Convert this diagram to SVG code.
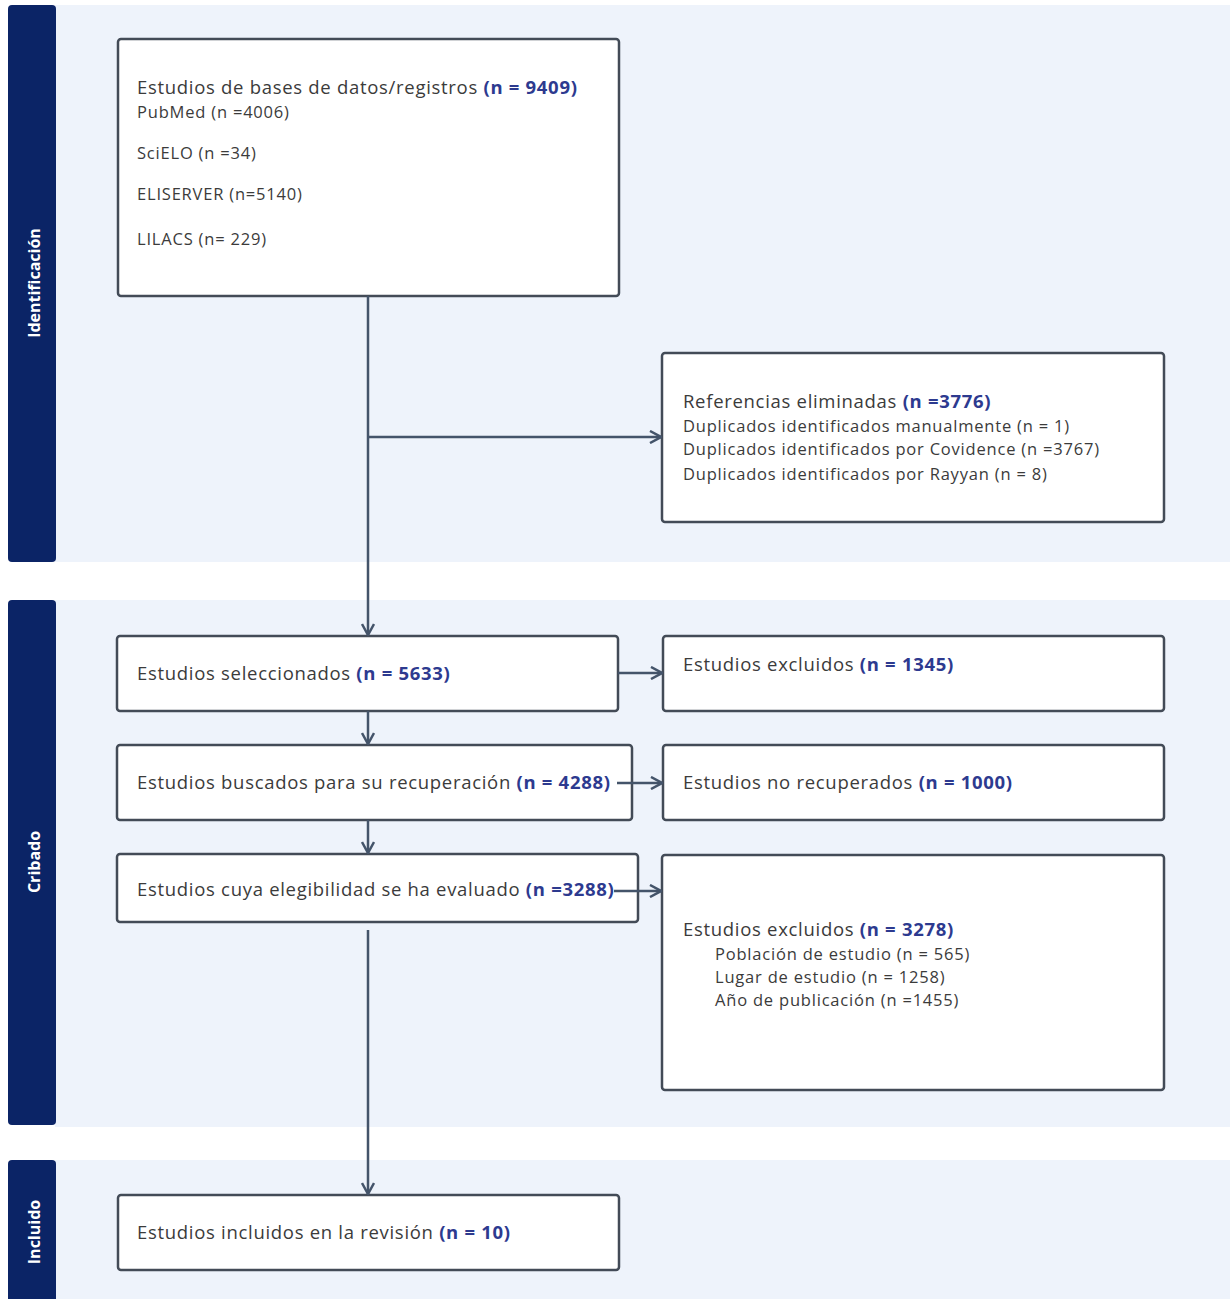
<svg xmlns="http://www.w3.org/2000/svg" width="1230" height="1299" viewBox="0 0 1230 1299">
<defs>
<style>
.band{fill:#eef3fb}
.side{fill:#0b2466}
.sidet{fill:#ffffff;font-family:"Open Sans","Liberation Sans",sans-serif;font-weight:bold;font-size:16px}
.box{fill:#ffffff;stroke:#434b57;stroke-width:2.5}
.t{font-family:"Open Sans","Liberation Sans",sans-serif;fill:#3b3b3b;font-size:18.5px;letter-spacing:0.7px}
.s{font-family:"Open Sans","Liberation Sans",sans-serif;fill:#3b3b3b;font-size:16.5px;letter-spacing:0.8px}
.n{fill:#2d3a8f;font-weight:bold}
.c{fill:none;stroke:#44546a;stroke-width:2.5}
</style>
<marker id="ah" viewBox="0 0 14 14" refX="13" refY="7" markerWidth="14" markerHeight="14" markerUnits="userSpaceOnUse" orient="auto">
<path d="M2,1 L13,7 L2,13" fill="none" stroke="#44546a" stroke-width="2.5"/>
</marker>
</defs>
<rect width="1230" height="1299" fill="#ffffff"/>
<g id="bands">
<rect class="band" x="55" y="5" width="1175" height="557"/>
<rect class="band" x="55" y="600" width="1175" height="527"/>
<rect class="band" x="55" y="1160" width="1175" height="139"/>
</g>
<g id="phase-identificacion">
<rect class="side" x="8" y="5" width="48" height="557" rx="4"/>
<text class="sidet" transform="translate(40,283) rotate(-90)" text-anchor="middle">Identificación</text>
</g>
<g id="phase-cribado">
<rect class="side" x="8" y="600" width="48" height="525" rx="4"/>
<text class="sidet" transform="translate(40,862) rotate(-90)" text-anchor="middle">Cribado</text>
</g>
<g id="phase-incluido">
<rect class="side" x="8" y="1160" width="48" height="145" rx="4"/>
<text class="sidet" transform="translate(40,1232) rotate(-90)" text-anchor="middle">Incluido</text>
</g>
<g id="node-bases">
<rect class="box" x="118" y="39" width="501" height="257" rx="3"/>
<text class="t" x="137" y="94">Estudios de bases de datos/registros <tspan class="n">(n = 9409)</tspan></text>
<text class="s" x="137" y="118">PubMed (n =4006)</text>
<text class="s" x="137" y="159">SciELO (n =34)</text>
<text class="s" x="137" y="200">ELISERVER (n=5140)</text>
<text class="s" x="137" y="245">LILACS (n= 229)</text>
</g>
<g id="node-eliminadas">
<rect class="box" x="662" y="353" width="502" height="169" rx="3"/>
<text class="t" x="683" y="408">Referencias eliminadas <tspan class="n">(n =3776)</tspan></text>
<text class="s" x="683" y="432">Duplicados identificados manualmente (n = 1)</text>
<text class="s" x="683" y="455">Duplicados identificados por Covidence (n =3767)</text>
<text class="s" x="683" y="480">Duplicados identificados por Rayyan (n = 8)</text>
</g>
<g id="node-seleccionados">
<rect class="box" x="117" y="636" width="501" height="75" rx="3"/>
<text class="t" x="137" y="680">Estudios seleccionados <tspan class="n">(n = 5633)</tspan></text>
</g>
<g id="node-excluidos1">
<rect class="box" x="663" y="636" width="501" height="75" rx="3"/>
<text class="t" x="683" y="671">Estudios excluidos <tspan class="n">(n = 1345)</tspan></text>
</g>
<g id="node-buscados">
<rect class="box" x="117" y="745" width="515" height="75" rx="3"/>
<text class="t" x="137" y="789">Estudios buscados para su recuperación <tspan class="n">(n = 4288)</tspan></text>
</g>
<g id="node-norecuperados">
<rect class="box" x="663" y="745" width="501" height="75" rx="3"/>
<text class="t" x="683" y="789">Estudios no recuperados <tspan class="n">(n = 1000)</tspan></text>
</g>
<g id="node-elegibilidad">
<rect class="box" x="117" y="854" width="521" height="68" rx="3"/>
<text class="t" x="137" y="896">Estudios cuya elegibilidad se ha evaluado <tspan class="n">(n =3288)</tspan></text>
</g>
<g id="node-excluidos2">
<rect class="box" x="662" y="855" width="502" height="235" rx="3"/>
<text class="t" x="683" y="936">Estudios excluidos <tspan class="n">(n = 3278)</tspan></text>
<text class="s" x="715" y="960">Población de estudio (n = 565)</text>
<text class="s" x="715" y="983">Lugar de estudio (n = 1258)</text>
<text class="s" x="715" y="1006">Año de publicación (n =1455)</text>
</g>
<g id="node-incluidos">
<rect class="box" x="118" y="1195" width="501" height="75" rx="3"/>
<text class="t" x="137" y="1239">Estudios incluidos en la revisión <tspan class="n">(n = 10)</tspan></text>
</g>
<g id="connectors">
<line class="c" x1="368" y1="296" x2="368" y2="635" marker-end="url(#ah)"/>
<line class="c" x1="368" y1="437" x2="661" y2="437" marker-end="url(#ah)"/>
<line class="c" x1="618" y1="673" x2="662" y2="673" marker-end="url(#ah)"/>
<line class="c" x1="368" y1="711" x2="368" y2="744" marker-end="url(#ah)"/>
<line class="c" x1="617" y1="783" x2="662" y2="783" marker-end="url(#ah)"/>
<line class="c" x1="368" y1="820" x2="368" y2="853" marker-end="url(#ah)"/>
<line class="c" x1="614" y1="891" x2="661" y2="891" marker-end="url(#ah)"/>
<line class="c" x1="368" y1="930" x2="368" y2="1194" marker-end="url(#ah)"/>
</g>
</svg>
